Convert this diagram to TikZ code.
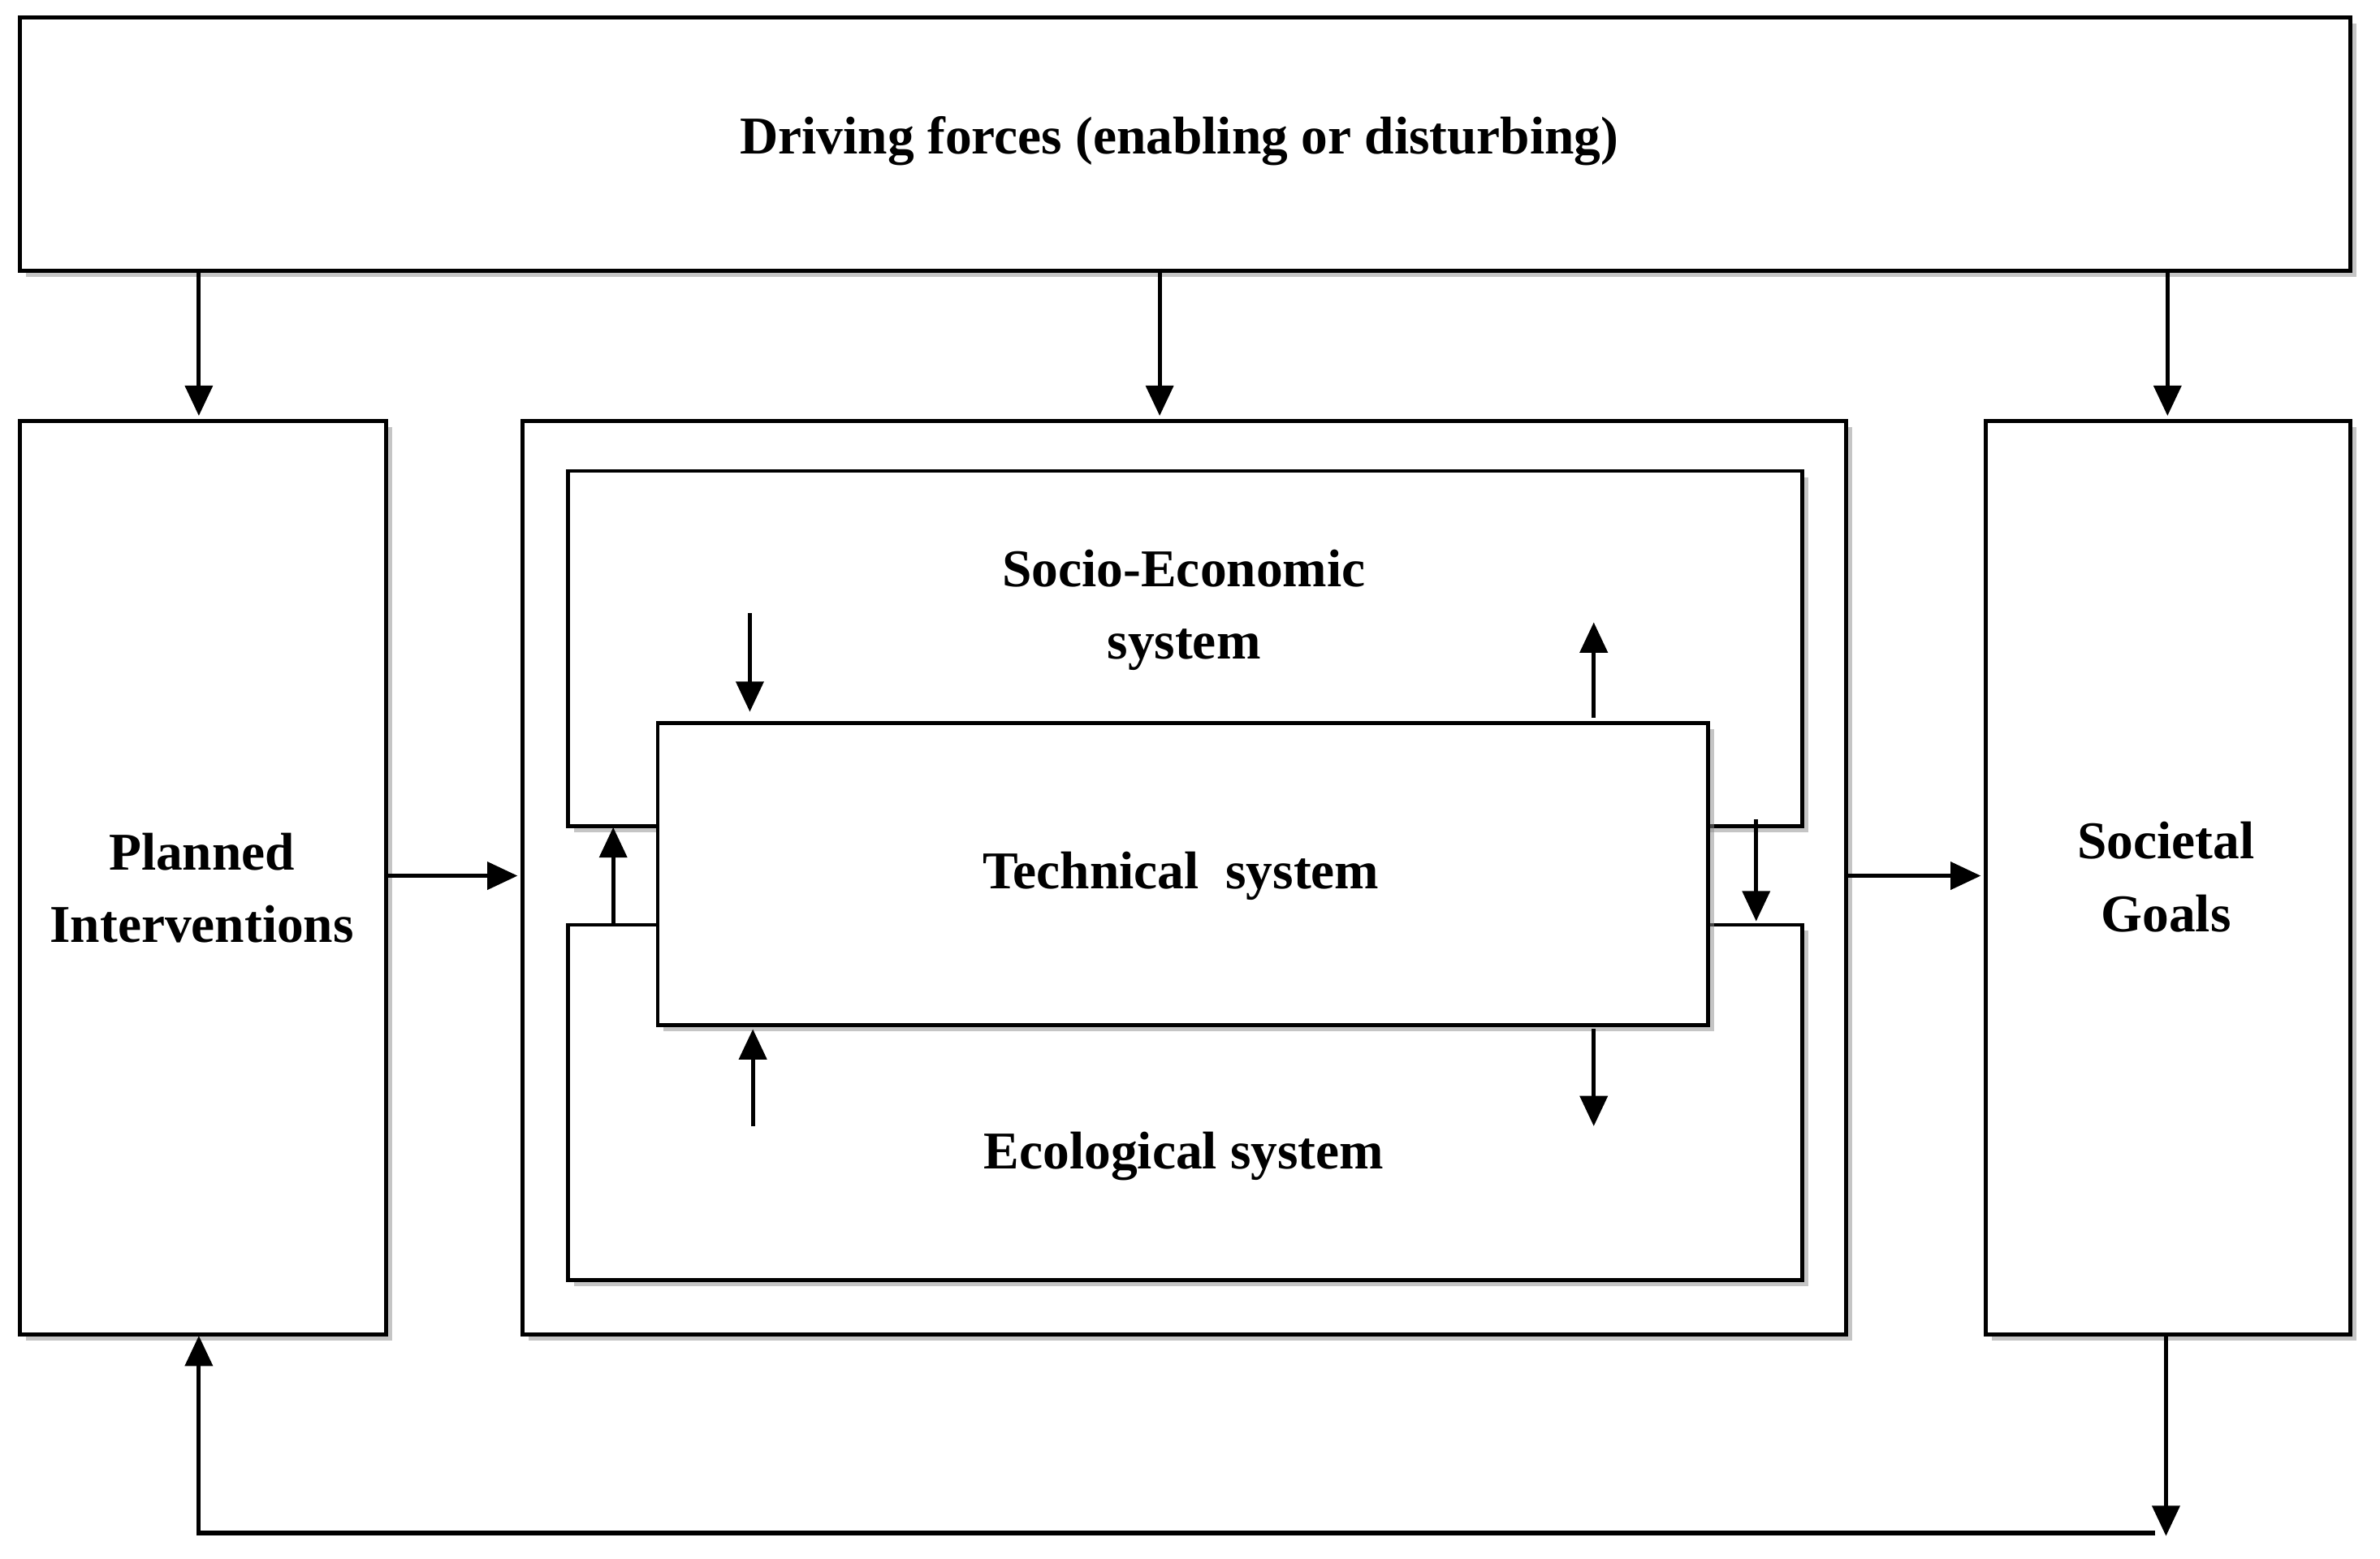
\documentclass[tikz,border=0pt]{standalone}
\usepackage{fontspec}
\setmainfont{Liberation Serif}
\usetikzlibrary{shadows,arrows.meta}
\begin{document}
\begin{tikzpicture}[x=1pt,y=-1pt,
  box/.style={draw,line width=2.6pt,fill=white,drop shadow={shadow xshift=4pt,shadow yshift=-4pt,fill=black!45}},
  lbl/.style={font=\bfseries\fontsize{35}{48}\selectfont,align=center},
  arr/.style={line width=2.8pt,-{Triangle[length=20pt,width=18pt]}}]
\useasboundingbox (0,0) rectangle (1568,1027);
\node[box,minimum width=1535pt,minimum height=167pt,anchor=north west] (drive) at (12,10) {};
\node[lbl] at (777,93) {Driving forces (enabling or disturbing)};
\node[box,minimum width=241pt,minimum height=602pt,anchor=north west] (plan) at (12,276) {};
\node[lbl] at (133,585) {Planned\\Interventions};
\node[box,minimum width=240pt,minimum height=602pt,anchor=north west] (goal) at (1307,276) {};
\node[lbl] at (1427,578) {Societal\\Goals};
\node[box,minimum width=872pt,minimum height=602pt,anchor=north west] (outer) at (343,276) {};
\node[box,minimum width=813pt,minimum height=234pt,anchor=north west] (socio) at (373,309) {};
\node[lbl] at (780,402) {Socio-Economic\\system};
\node[box,minimum width=813pt,minimum height=234pt,anchor=north west] (eco) at (373,608) {};
\node[lbl] at (780,762) {Ecological system};
\node[box,minimum width=692pt,minimum height=199pt,anchor=north west] (tech) at (432,475) {};
\node[lbl] at (778,577) {Technical\ \ system};
\coordinate (d1) at (131,177); \coordinate (p1) at (131,274);
\coordinate (d2) at (764,177); \coordinate (p2) at (764,274);
\coordinate (d3) at (1428,177); \coordinate (p3) at (1428,274);
\draw[arr] (d1) -- (p1);
\draw[arr] (d2) -- (p2);
\draw[arr] (d3) -- (p3);
\draw[arr] (plan.east |- 0,577) -- (341,577);
\draw[arr] (outer.east |- 0,577) -- (1305,577);
\coordinate (g1) at (1427,878); \coordinate (g2) at (1427,1012);
\coordinate (b1) at (131,1010); \coordinate (b0) at (1420,1010);
\draw[arr] (g1) -- (g2);
\draw[arr] (b0) -- (b1) -- (131,880);
\draw[arr] (494,404) -- (494,469);
\draw[arr] (1050,473) -- (1050,410);
\draw[arr] (404,608) -- (404,545);
\draw[arr] (1157,540) -- (1157,607);
\draw[arr] (496,742) -- (496,678);
\draw[arr] (1050,678) -- (1050,742);
\end{tikzpicture}
\end{document}
